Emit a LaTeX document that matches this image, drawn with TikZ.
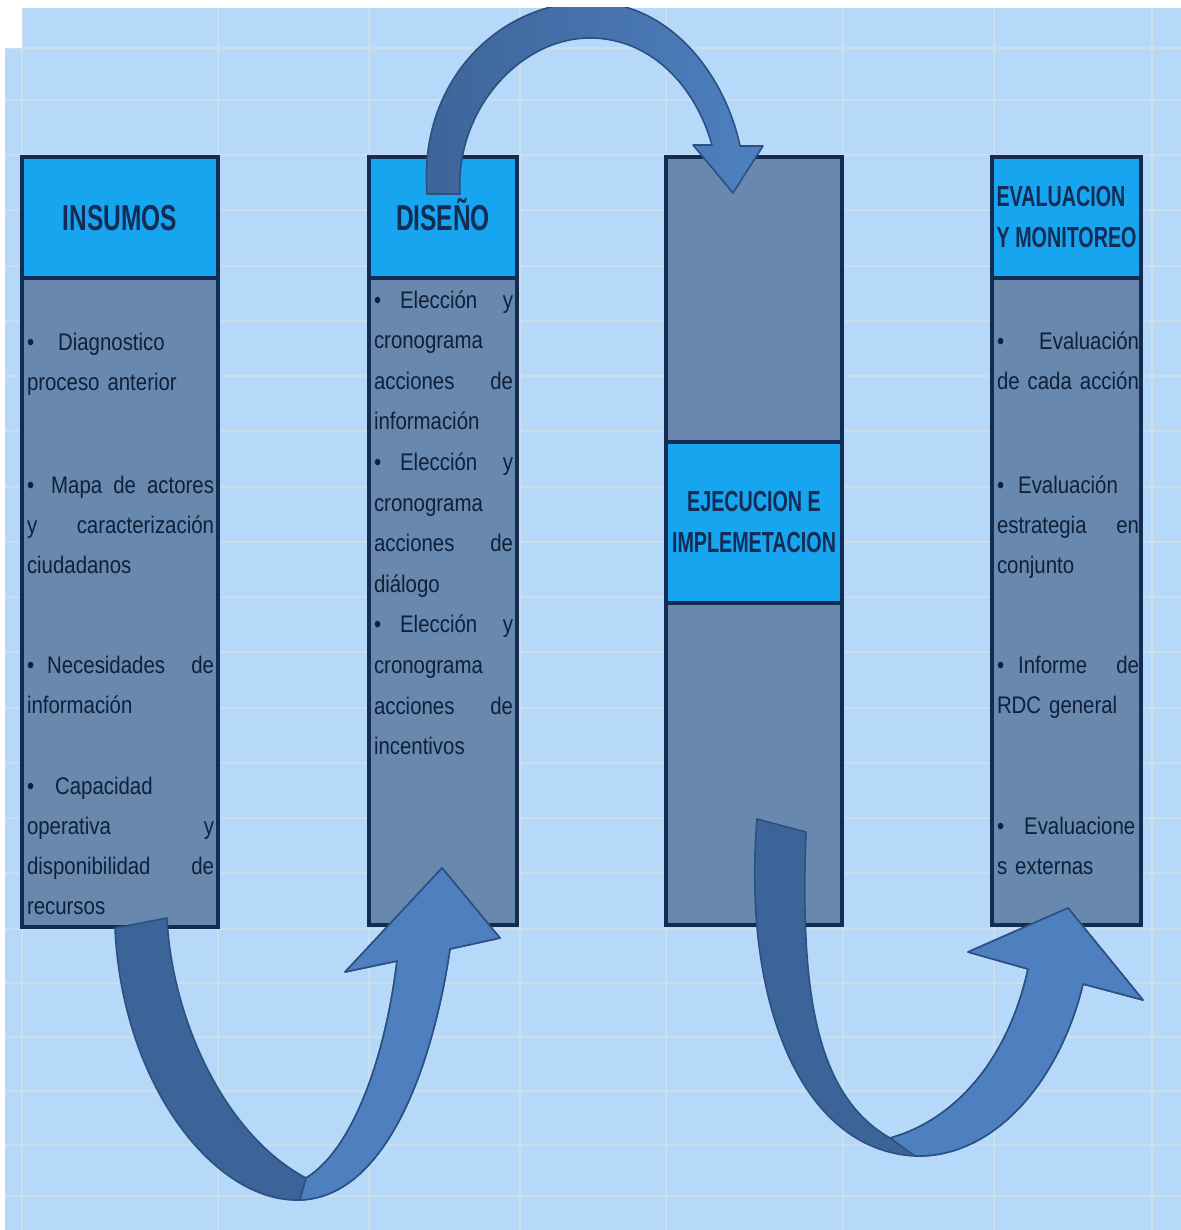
\documentclass[tikz,border=0pt]{standalone}
\usepackage{fontspec}
\setmainfont{Liberation Sans}[FakeStretch=0.85]
\newfontfamily\cabfont{Liberation Sans}[FakeStretch=0.68]
\usepackage{xcolor}
\usepackage{tikz}
\usetikzlibrary{positioning}

\definecolor{fondo}{RGB}{182,216,249}
\definecolor{rejilla}{RGB}{204,221,236}
\definecolor{azulcab}{RGB}{24,165,240}
\definecolor{azulcuerpo}{RGB}{104,136,173}
\definecolor{borde}{RGB}{18,44,84}
\definecolor{letra}{RGB}{14,32,58}
\definecolor{flechaosc}{RGB}{61,100,152}
\definecolor{flechaclara}{RGB}{78,128,192}
\definecolor{trazo}{RGB}{44,80,130}
% linea justificada: los espacios se estiran hasta el borde
\newcommand\jl[1]{{\spaceskip.3333em plus 1fil\relax\makebox[\linewidth][s]{#1}}}
\newcommand\singuion{\hyphenpenalty10000\exhyphenpenalty10000\relax}
\newcommand\vin[1]{•\hspace{#1}}

\begin{document}
\begin{tikzpicture}[x=0.5pt,y=-0.5pt,
    every node/.style={outer sep=0pt,inner sep=0pt},
    cab/.style={draw=borde,line width=1.6pt,fill=azulcab,text=borde},
    grande/.style={font=\cabfont\bfseries\fontsize{18}{20}\selectfont,text height=12.9pt,text depth=0pt},
    chica/.style={font=\cabfont\bfseries\fontsize{14.5}{20.5}\selectfont\singuion},
    cuerpo/.style={draw=borde,line width=1.6pt,fill=azulcuerpo},
    lista/.style={anchor=base west,align=left,text=letra,font={\fontsize{12}{20}\selectfont\singuion}},
    flecha/.style={draw=trazo,line width=0.8pt,line join=round}]
    \useasboundingbox (0,0) rectangle (1181,1230);
    % fondo tipo hoja de calculo
    \fill[white] (0,0) rectangle (1181,1230);
    \fill[fondo] (5,8) rectangle (1181,1230);
    \foreach \y in {48,100,155,210,266,321,376,431,487,542,597,652,708,763,818,873,929,983,1037,1091,1145,1196}
      \draw[rejilla,line width=1.1pt] (5,\y) -- (1181,\y);
    \foreach \x in {22,218,369,520,666,843,994,1152}
      \draw[rejilla,line width=1.1pt] (\x,8) -- (\x,1230);
    \fill[white] (5,8) rectangle (22,48);

    \node[cab,grande,minimum width=98pt,minimum height=60.5pt,anchor=north west] (Ins) at (22,157) {INSUMOS};
    \node[cuerpo,minimum width=98pt,minimum height=324.5pt,below=0pt of Ins] (InsB) {};
    \node[cab,grande,minimum width=74pt,minimum height=60.5pt,anchor=north west] (Dis) at (369,157) {DISEÑO};
    \node[cuerpo,minimum width=74pt,minimum height=323.5pt,below=0pt of Dis] (DisB) {};
    \node[cuerpo,minimum width=88pt,minimum height=142.5pt,anchor=north west] (EjeA) at (666,157) {};
    \node[cab,chica,align=center,minimum width=88pt,minimum height=80.5pt,below=0pt of EjeA] (Eje) {EJECUCION E\\IMPLEMETACION};
    \node[cuerpo,minimum width=88pt,minimum height=161pt,below=0pt of Eje] (EjeB) {};
    \node[cab,chica,align=left,text width=70pt,minimum width=74.5pt,minimum height=60.5pt,anchor=north west] (Eva) at (992,157) {EVALUACION\\\mbox{Y\hspace{2.8pt}MONITOREO}};
    \node[cuerpo,minimum width=74.5pt,minimum height=323.5pt,below=0pt of Eva] (EvaB) {};

    \node[lista,text width=93.5pt] (ins1) at (27,350) {\vin{12pt}Diagnostico\\proceso anterior};
    \node[lista,text width=93.5pt] (ins2) at (27,493) {\jl{\vin{3pt} Mapa de actores}\\\jl{y caracterización}\\ciudadanos};
    \node[lista,text width=93.5pt] (ins3) at (27,673) {\jl{\vin{6.5pt}Necesidades de}\\información};
    \node[lista,text width=93.5pt] (ins4) at (27,794) {\vin{10.5pt}Capacidad\\\jl{operativa y}\\\jl{disponibilidad de}\\recursos};
    \node[lista,text width=69.5pt,font={\fontsize{12}{20.3}\selectfont\singuion}] (dis1) at (374,308)
      {\jl{\vin{9.5pt}Elección y}\\cronograma\\\jl{acciones de}\\información\\
       \jl{\vin{9.5pt}Elección y}\\cronograma\\\jl{acciones de}\\diálogo\\
       \jl{\vin{9.5pt}Elección y}\\cronograma\\\jl{acciones de}\\incentivos};
    \node[lista,text width=71pt] (eva1) at (997,349) {\jl{• Evaluación}\\de cada acción};
    \node[lista,text width=71pt] (eva2) at (997,493) {\vin{7pt}Evaluación\\\jl{estrategia en}\\conjunto};
    \node[lista,text width=71pt] (eva3) at (997,673) {\jl{\vin{7pt}Informe de}\\RDC general};
    \node[lista,text width=71pt] (eva4) at (997,834) {\vin{10pt}Evaluacione\\s externas};

    \begin{scope}
      \clip (5,8) rectangle (1181,1230);
      % insumos -> diseno
      \path[flecha,fill=flechaosc] (115,928) .. controls (122,1085) and (215,1203) .. (300,1200)
        .. controls (385,1197) and (432,1070) .. (450,949) -- (500,938) -- (442,868) -- (345,972) -- (397,961)
        .. controls (385,1060) and (352,1150) .. (306,1178)
        .. controls (225,1135) and (172,1020) .. (167,918) -- cycle;
      \path[flecha,fill=flechaclara] (306,1178) -- (300,1200) .. controls (385,1197) and (432,1070) .. (450,949)
        -- (500,938) -- (442,868) -- (345,972) -- (397,961)
        .. controls (385,1060) and (352,1150) .. (306,1178) -- cycle;
      % diseno -> ejecucion
      \path[flecha,left color=flechaosc,right color=flechaclara] (427,194) .. controls (418,80) and (500,2) .. (590,2)
        .. controls (670,2) and (725,75) .. (740,146) -- (763,146) -- (733,193) -- (693,145) -- (712,145)
        .. controls (695,85) and (650,38) .. (590,38)
        .. controls (520,38) and (455,110) .. (460,194) -- cycle;
      % ejecucion -> evaluacion
      \path[flecha,fill=flechaosc] (757,819) .. controls (742,1000) and (800,1150) .. (915,1156)
        .. controls (995,1158) and (1060,1080) .. (1083,984) -- (1143,1000) -- (1068,908) -- (968,952) -- (1028,969)
        .. controls (1008,1060) and (955,1120) .. (890,1138)
        .. controls (815,1095) and (800,990) .. (806,832) -- cycle;
      \path[flecha,fill=flechaclara] (890,1138) -- (915,1156) .. controls (995,1158) and (1060,1080) .. (1083,984)
        -- (1143,1000) -- (1068,908) -- (968,952) -- (1028,969)
        .. controls (1008,1060) and (955,1120) .. (890,1138) -- cycle;
    \end{scope}
\end{tikzpicture}
\end{document}
